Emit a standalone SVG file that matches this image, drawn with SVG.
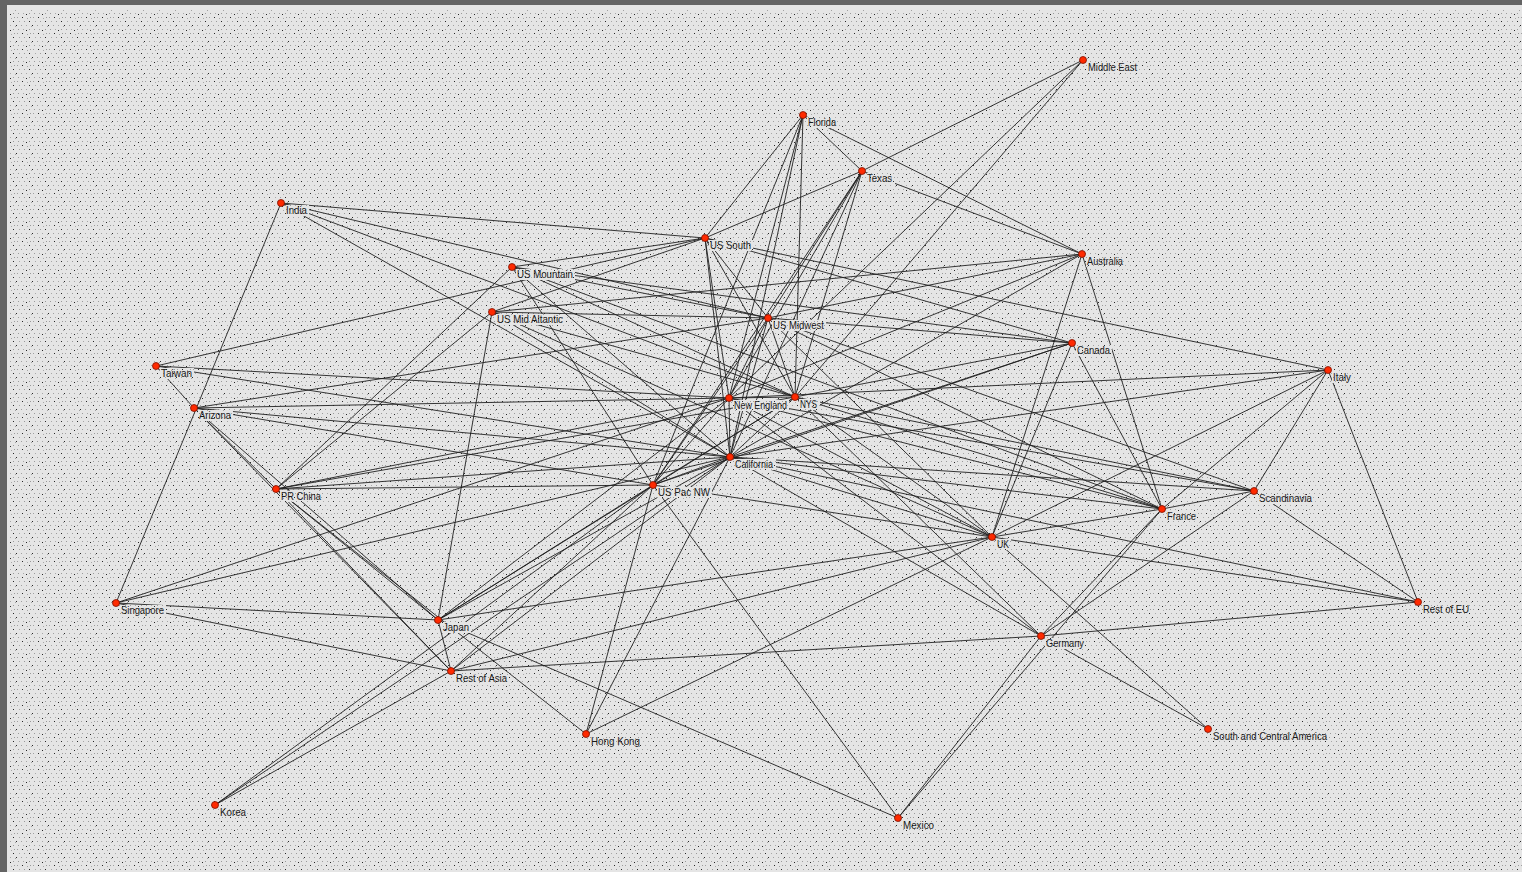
<svg xmlns="http://www.w3.org/2000/svg" width="1522" height="872" viewBox="0 0 1522 872">
<defs>
<pattern id="dots" patternUnits="userSpaceOnUse" width="16" height="16">
<rect width="16" height="16" fill="#e5e5e5"/>
<rect x="1" y="1" width="1" height="1" fill="#a0a0a0"/>
<rect x="6" y="1" width="1" height="1" fill="#262626"/>
<rect x="11" y="2" width="1" height="1" fill="#a8a8a8"/>
<rect x="14" y="1" width="1" height="1" fill="#9a9a9a"/>
<rect x="3" y="5" width="1" height="1" fill="#a8a8a8"/>
<rect x="8" y="5" width="1" height="1" fill="#9a9a9a"/>
<rect x="13" y="5" width="1" height="1" fill="#262626"/>
<rect x="0" y="9" width="1" height="1" fill="#262626"/>
<rect x="5" y="9" width="1" height="1" fill="#a0a0a0"/>
<rect x="10" y="9" width="1" height="1" fill="#a8a8a8"/>
<rect x="15" y="10" width="1" height="1" fill="#a0a0a0"/>
<rect x="2" y="13" width="1" height="1" fill="#9a9a9a"/>
<rect x="7" y="13" width="1" height="1" fill="#a8a8a8"/>
<rect x="10" y="14" width="1" height="1" fill="#262626"/>
<rect x="13" y="13" width="1" height="1" fill="#9a9a9a"/>
</pattern>
<style>
.e{stroke:#202020;stroke-width:0.9;fill:none}
.n circle{fill:#ff2a00;stroke:#7a1000;stroke-width:0.8}
.n rect{fill:url(#dots)}
.n text{font-family:"Liberation Sans",Arial,sans-serif;font-size:11px;fill:#1a1a1a}
</style>
</defs>
<rect x="0" y="0" width="1522" height="872" fill="#e5e5e5"/>
<rect x="9" y="10" width="1513" height="862" fill="url(#dots)"/>
<rect x="0" y="0" width="1522" height="5" fill="#646464"/>
<rect x="0" y="0" width="7" height="872" fill="#646464"/>
<g id="connectors" class="e">
<line x1="1083" y1="60" x2="862" y2="171"/>
<line x1="1083" y1="60" x2="795" y2="397"/>
<line x1="1083" y1="60" x2="729" y2="398"/>
<line x1="803" y1="115" x2="862" y2="171"/>
<line x1="803" y1="115" x2="705" y2="238"/>
<line x1="803" y1="115" x2="1082" y2="254"/>
<line x1="803" y1="115" x2="795" y2="397"/>
<line x1="803" y1="115" x2="729" y2="398"/>
<line x1="803" y1="115" x2="730" y2="457"/>
<line x1="803" y1="115" x2="653" y2="485"/>
<line x1="862" y1="171" x2="705" y2="238"/>
<line x1="862" y1="171" x2="1082" y2="254"/>
<line x1="862" y1="171" x2="729" y2="398"/>
<line x1="862" y1="171" x2="730" y2="457"/>
<line x1="862" y1="171" x2="653" y2="485"/>
<line x1="862" y1="171" x2="768" y2="318"/>
<line x1="862" y1="171" x2="795" y2="397"/>
<line x1="281" y1="203" x2="116" y2="603"/>
<line x1="281" y1="203" x2="705" y2="238"/>
<line x1="281" y1="203" x2="768" y2="318"/>
<line x1="281" y1="203" x2="795" y2="397"/>
<line x1="281" y1="203" x2="730" y2="457"/>
<line x1="156" y1="366" x2="705" y2="238"/>
<line x1="156" y1="366" x2="729" y2="398"/>
<line x1="156" y1="366" x2="730" y2="457"/>
<line x1="156" y1="366" x2="194" y2="408"/>
<line x1="194" y1="408" x2="276" y2="489"/>
<line x1="194" y1="408" x2="438" y2="620"/>
<line x1="194" y1="408" x2="451" y2="671"/>
<line x1="194" y1="408" x2="729" y2="398"/>
<line x1="194" y1="408" x2="768" y2="318"/>
<line x1="194" y1="408" x2="730" y2="457"/>
<line x1="194" y1="408" x2="653" y2="485"/>
<line x1="705" y1="238" x2="512" y2="267"/>
<line x1="705" y1="238" x2="492" y2="312"/>
<line x1="705" y1="238" x2="729" y2="398"/>
<line x1="705" y1="238" x2="730" y2="457"/>
<line x1="705" y1="238" x2="795" y2="397"/>
<line x1="705" y1="238" x2="768" y2="318"/>
<line x1="705" y1="238" x2="1072" y2="343"/>
<line x1="705" y1="238" x2="1328" y2="370"/>
<line x1="512" y1="267" x2="276" y2="489"/>
<line x1="512" y1="267" x2="768" y2="318"/>
<line x1="512" y1="267" x2="795" y2="397"/>
<line x1="512" y1="267" x2="653" y2="485"/>
<line x1="512" y1="267" x2="730" y2="457"/>
<line x1="512" y1="267" x2="1072" y2="343"/>
<line x1="512" y1="267" x2="1162" y2="509"/>
<line x1="492" y1="312" x2="276" y2="489"/>
<line x1="492" y1="312" x2="438" y2="620"/>
<line x1="492" y1="312" x2="768" y2="318"/>
<line x1="492" y1="312" x2="795" y2="397"/>
<line x1="492" y1="312" x2="1082" y2="254"/>
<line x1="492" y1="312" x2="730" y2="457"/>
<line x1="492" y1="312" x2="992" y2="537"/>
<line x1="1082" y1="254" x2="768" y2="318"/>
<line x1="1082" y1="254" x2="729" y2="398"/>
<line x1="1082" y1="254" x2="730" y2="457"/>
<line x1="1082" y1="254" x2="992" y2="537"/>
<line x1="1082" y1="254" x2="1162" y2="509"/>
<line x1="1072" y1="343" x2="768" y2="318"/>
<line x1="1072" y1="343" x2="795" y2="397"/>
<line x1="1072" y1="343" x2="730" y2="457"/>
<line x1="1072" y1="343" x2="653" y2="485"/>
<line x1="1072" y1="343" x2="992" y2="537"/>
<line x1="1072" y1="343" x2="1162" y2="509"/>
<line x1="1328" y1="370" x2="729" y2="398"/>
<line x1="1328" y1="370" x2="730" y2="457"/>
<line x1="1328" y1="370" x2="992" y2="537"/>
<line x1="1328" y1="370" x2="1254" y2="491"/>
<line x1="1328" y1="370" x2="1418" y2="602"/>
<line x1="1328" y1="370" x2="1162" y2="509"/>
<line x1="276" y1="489" x2="729" y2="398"/>
<line x1="276" y1="489" x2="795" y2="397"/>
<line x1="276" y1="489" x2="730" y2="457"/>
<line x1="276" y1="489" x2="653" y2="485"/>
<line x1="276" y1="489" x2="438" y2="620"/>
<line x1="276" y1="489" x2="586" y2="734"/>
<line x1="276" y1="489" x2="451" y2="671"/>
<line x1="116" y1="603" x2="729" y2="398"/>
<line x1="116" y1="603" x2="730" y2="457"/>
<line x1="116" y1="603" x2="438" y2="620"/>
<line x1="116" y1="603" x2="451" y2="671"/>
<line x1="215" y1="805" x2="451" y2="671"/>
<line x1="215" y1="805" x2="653" y2="485"/>
<line x1="215" y1="805" x2="730" y2="457"/>
<line x1="438" y1="620" x2="451" y2="671"/>
<line x1="438" y1="620" x2="898" y2="818"/>
<line x1="438" y1="620" x2="729" y2="398"/>
<line x1="438" y1="620" x2="795" y2="397"/>
<line x1="438" y1="620" x2="730" y2="457"/>
<line x1="438" y1="620" x2="653" y2="485"/>
<line x1="438" y1="620" x2="992" y2="537"/>
<line x1="451" y1="671" x2="1041" y2="636"/>
<line x1="451" y1="671" x2="992" y2="537"/>
<line x1="451" y1="671" x2="653" y2="485"/>
<line x1="451" y1="671" x2="730" y2="457"/>
<line x1="586" y1="734" x2="653" y2="485"/>
<line x1="586" y1="734" x2="730" y2="457"/>
<line x1="586" y1="734" x2="992" y2="537"/>
<line x1="898" y1="818" x2="653" y2="485"/>
<line x1="898" y1="818" x2="1041" y2="636"/>
<line x1="898" y1="818" x2="1162" y2="509"/>
<line x1="1041" y1="636" x2="1162" y2="509"/>
<line x1="1041" y1="636" x2="1254" y2="491"/>
<line x1="1041" y1="636" x2="1418" y2="602"/>
<line x1="1041" y1="636" x2="1208" y2="729"/>
<line x1="1041" y1="636" x2="730" y2="457"/>
<line x1="1041" y1="636" x2="729" y2="398"/>
<line x1="1041" y1="636" x2="795" y2="397"/>
<line x1="992" y1="537" x2="1418" y2="602"/>
<line x1="992" y1="537" x2="1208" y2="729"/>
<line x1="992" y1="537" x2="1162" y2="509"/>
<line x1="992" y1="537" x2="653" y2="485"/>
<line x1="992" y1="537" x2="729" y2="398"/>
<line x1="992" y1="537" x2="795" y2="397"/>
<line x1="992" y1="537" x2="730" y2="457"/>
<line x1="992" y1="537" x2="768" y2="318"/>
<line x1="1162" y1="509" x2="1254" y2="491"/>
<line x1="1162" y1="509" x2="729" y2="398"/>
<line x1="1162" y1="509" x2="795" y2="397"/>
<line x1="1162" y1="509" x2="730" y2="457"/>
<line x1="1162" y1="509" x2="768" y2="318"/>
<line x1="1254" y1="491" x2="1418" y2="602"/>
<line x1="1254" y1="491" x2="729" y2="398"/>
<line x1="1254" y1="491" x2="795" y2="397"/>
<line x1="1254" y1="491" x2="730" y2="457"/>
<line x1="1254" y1="491" x2="768" y2="318"/>
<line x1="1418" y1="602" x2="730" y2="457"/>
<line x1="729" y1="398" x2="795" y2="397"/>
<line x1="729" y1="398" x2="730" y2="457"/>
<line x1="729" y1="398" x2="768" y2="318"/>
<line x1="795" y1="397" x2="768" y2="318"/>
<line x1="730" y1="457" x2="653" y2="485"/>
<line x1="729" y1="398" x2="653" y2="485"/>
<line x1="795" y1="397" x2="730" y2="457"/>
<line x1="768" y1="318" x2="730" y2="457"/>
<line x1="768" y1="318" x2="653" y2="485"/>
<line x1="795" y1="397" x2="653" y2="485"/>
</g>
<g id="nodes" class="n">
<g id="n-middle-east"><rect x="1087" y="62" width="52" height="11"/><circle cx="1083" cy="60" r="3.5"/><text x="1088" y="71" textLength="49" lengthAdjust="spacingAndGlyphs">Middle East</text></g>
<g id="n-florida"><rect x="807" y="117" width="31" height="11"/><circle cx="803" cy="115" r="3.5"/><text x="808" y="126" textLength="28" lengthAdjust="spacingAndGlyphs">Florida</text></g>
<g id="n-texas"><rect x="866" y="173" width="29" height="11"/><circle cx="862" cy="171" r="3.5"/><text x="867" y="182" textLength="25" lengthAdjust="spacingAndGlyphs">Texas</text></g>
<g id="n-india"><rect x="285" y="205" width="24" height="11"/><circle cx="281" cy="203" r="3.5"/><text x="286" y="214" textLength="21" lengthAdjust="spacingAndGlyphs">India</text></g>
<g id="n-us-south"><rect x="709" y="240" width="44" height="11"/><circle cx="705" cy="238" r="3.5"/><text x="710" y="249" textLength="41" lengthAdjust="spacingAndGlyphs">US South</text></g>
<g id="n-australia"><rect x="1086" y="256" width="39" height="11"/><circle cx="1082" cy="254" r="3.5"/><text x="1087" y="265" textLength="36" lengthAdjust="spacingAndGlyphs">Australia</text></g>
<g id="n-us-mountain"><rect x="516" y="269" width="59" height="11"/><circle cx="512" cy="267" r="3.5"/><text x="517" y="278" textLength="56" lengthAdjust="spacingAndGlyphs">US Mountain</text></g>
<g id="n-us-mid-atlantic"><rect x="496" y="314" width="69" height="11"/><circle cx="492" cy="312" r="3.5"/><text x="497" y="323" textLength="66" lengthAdjust="spacingAndGlyphs">US Mid Altantic</text></g>
<g id="n-us-midwest"><rect x="772" y="320" width="54" height="11"/><circle cx="768" cy="318" r="3.5"/><text x="773" y="329" textLength="51" lengthAdjust="spacingAndGlyphs">US Midwest</text></g>
<g id="n-canada"><rect x="1076" y="345" width="36" height="11"/><circle cx="1072" cy="343" r="3.5"/><text x="1077" y="354" textLength="33" lengthAdjust="spacingAndGlyphs">Canada</text></g>
<g id="n-italy"><rect x="1332" y="372" width="21" height="11"/><circle cx="1328" cy="370" r="3.5"/><text x="1333" y="381" textLength="18" lengthAdjust="spacingAndGlyphs">Italy</text></g>
<g id="n-taiwan"><rect x="160" y="368" width="34" height="11"/><circle cx="156" cy="366" r="3.5"/><text x="161" y="377" textLength="31" lengthAdjust="spacingAndGlyphs">Taiwan</text></g>
<g id="n-arizona"><rect x="198" y="410" width="35" height="11"/><circle cx="194" cy="408" r="3.5"/><text x="199" y="419" textLength="32" lengthAdjust="spacingAndGlyphs">Arizona</text></g>
<g id="n-new-england"><rect x="733" y="400" width="56" height="11"/><circle cx="729" cy="398" r="3.5"/><text x="734" y="409" textLength="53" lengthAdjust="spacingAndGlyphs">New England</text></g>
<g id="n-nys"><rect x="799" y="399" width="21" height="11"/><circle cx="795" cy="397" r="3.5"/><text x="800" y="408" textLength="17" lengthAdjust="spacingAndGlyphs">NYS</text></g>
<g id="n-california"><rect x="734" y="459" width="42" height="11"/><circle cx="730" cy="457" r="3.5"/><text x="735" y="468" textLength="38" lengthAdjust="spacingAndGlyphs">California</text></g>
<g id="n-pr-china"><rect x="280" y="491" width="43" height="11"/><circle cx="276" cy="489" r="3.5"/><text x="281" y="500" textLength="40" lengthAdjust="spacingAndGlyphs">PR China</text></g>
<g id="n-us-pac-nw"><rect x="657" y="487" width="55" height="11"/><circle cx="653" cy="485" r="3.5"/><text x="658" y="496" textLength="52" lengthAdjust="spacingAndGlyphs">US Pac NW</text></g>
<g id="n-scandinavia"><rect x="1258" y="493" width="56" height="11"/><circle cx="1254" cy="491" r="3.5"/><text x="1259" y="502" textLength="53" lengthAdjust="spacingAndGlyphs">Scandinavia</text></g>
<g id="n-france"><rect x="1166" y="511" width="32" height="11"/><circle cx="1162" cy="509" r="3.5"/><text x="1167" y="520" textLength="29" lengthAdjust="spacingAndGlyphs">France</text></g>
<g id="n-uk"><rect x="996" y="539" width="15" height="11"/><circle cx="992" cy="537" r="3.5"/><text x="997" y="548" textLength="12" lengthAdjust="spacingAndGlyphs">UK</text></g>
<g id="n-singapore"><rect x="120" y="605" width="46" height="11"/><circle cx="116" cy="603" r="3.5"/><text x="121" y="614" textLength="43" lengthAdjust="spacingAndGlyphs">Singapore</text></g>
<g id="n-rest-of-eu"><rect x="1422" y="604" width="49" height="11"/><circle cx="1418" cy="602" r="3.5"/><text x="1423" y="613" textLength="46" lengthAdjust="spacingAndGlyphs">Rest of EU</text></g>
<g id="n-japan"><rect x="442" y="622" width="29" height="11"/><circle cx="438" cy="620" r="3.5"/><text x="443" y="631" textLength="26" lengthAdjust="spacingAndGlyphs">Japan</text></g>
<g id="n-germany"><rect x="1045" y="638" width="41" height="11"/><circle cx="1041" cy="636" r="3.5"/><text x="1046" y="647" textLength="38" lengthAdjust="spacingAndGlyphs">Germany</text></g>
<g id="n-rest-of-asia"><rect x="455" y="673" width="54" height="11"/><circle cx="451" cy="671" r="3.5"/><text x="456" y="682" textLength="51" lengthAdjust="spacingAndGlyphs">Rest of Asia</text></g>
<g id="n-south-central-america"><rect x="1212" y="731" width="117" height="11"/><circle cx="1208" cy="729" r="3.5"/><text x="1213" y="740" textLength="114" lengthAdjust="spacingAndGlyphs">South and Central America</text></g>
<g id="n-hong-kong"><rect x="590" y="736" width="52" height="11"/><circle cx="586" cy="734" r="3.5"/><text x="591" y="745" textLength="49" lengthAdjust="spacingAndGlyphs">Hong Kong</text></g>
<g id="n-korea"><rect x="219" y="807" width="29" height="11"/><circle cx="215" cy="805" r="3.5"/><text x="220" y="816" textLength="26" lengthAdjust="spacingAndGlyphs">Korea</text></g>
<g id="n-mexico"><rect x="902" y="820" width="34" height="11"/><circle cx="898" cy="818" r="3.5"/><text x="903" y="829" textLength="31" lengthAdjust="spacingAndGlyphs">Mexico</text></g>
</g>
</svg>
